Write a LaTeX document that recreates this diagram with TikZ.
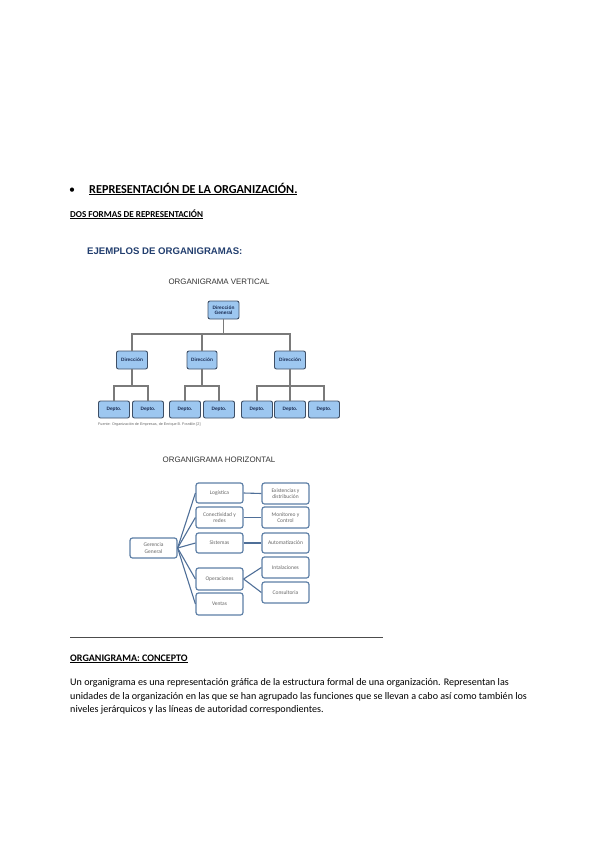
\documentclass[tikz,border=0pt]{standalone}
\usepackage{fontspec}
\setmainfont{Carlito}
\newfontfamily\arialfont{Liberation Sans}
\definecolor{vfill}{HTML}{9DC7F0}
\definecolor{vborder}{HTML}{3E4F66}
\definecolor{vtext}{HTML}{1C2E55}
\definecolor{vline}{HTML}{7A7A7A}
\definecolor{hborder}{HTML}{5D7FA6}
\definecolor{hline}{HTML}{4F6F98}
\definecolor{htext}{HTML}{666666}
\definecolor{ejcolor}{HTML}{223E6E}
\definecolor{titlegray}{HTML}{333333}
\tikzset{
  vbox/.style={draw=vborder, fill=vfill, rounded corners=2pt, line width=0.9pt,
    minimum width=31pt, minimum height=18pt, inner sep=0.5pt, align=center,
    text=vtext, font=\arialfont\bfseries\fontsize{4.8}{5.4}\selectfont},
  dbox/.style={vbox, minimum height=17pt},
  vconn/.style={draw=vline, line width=1.1pt},
  hbox/.style={draw=hborder, fill=white, rounded corners=2.5pt, line width=1.2pt,
    minimum width=47pt, minimum height=20pt, inner sep=0.5pt, align=center,
    text=htext, font=\fontsize{5.5}{6.3}\selectfont},
  hconn/.style={draw=hline, line width=1.1pt},
  charttitle/.style={text=titlegray, font=\arialfont\fontsize{7.9}{9}\selectfont},
  bodytext/.style={anchor=base west, inner sep=0pt, font=\fontsize{10.1}{13.5}\selectfont},
}
\begin{document}
\begin{tikzpicture}[x=1pt,y=-1pt]
\useasboundingbox (0,0) rectangle (600,848);
% header texts
\node[anchor=base, inner sep=0pt, font=\fontsize{12}{13}\selectfont] (bullet) at (72,193) {•};
\node[anchor=base west, inner sep=0pt, font=\bfseries\fontsize{12.2}{14}\selectfont] (head) at (89,193) {\underline{REPRESENTACIÓN DE LA ORGANIZACIÓN.}};
\node[anchor=base west, inner sep=0pt, font=\bfseries\fontsize{9.1}{10}\selectfont] (dos) at (70,217) {\underline{DOS FORMAS DE REPRESENTACIÓN}};
\node[anchor=base west, inner sep=0pt, text=ejcolor, font=\arialfont\bfseries\fontsize{9.6}{10}\selectfont] (ej) at (87,254) {EJEMPLOS DE ORGANIGRAMAS:};

% vertical chart
\node[charttitle] (vt) at (219,282) {ORGANIGRAMA VERTICAL};
\node[vbox] (DG) at (223.5,310) {Dirección\\General};
\node[vbox] (D1) at (132,360) {Dirección};
\node[vbox, minimum width=30pt] (D2) at (202,360) {Dirección};
\node[vbox] (D3) at (290,360) {Dirección};
\foreach \n/\x in {P1/114,P2/148,P3/185,P4/219,P5/257,P6/290,P7/324}
  \node[dbox] (\n) at (\x,409.5) {Depto.};
\coordinate (bus) at (223.5,334);
\coordinate (b1) at (132,386);
\coordinate (b2) at (202,386);
\coordinate (b3) at (290,386);
\draw[vconn] (DG.south) -- (bus);
\draw[vconn] (D1.north) |- (bus);
\draw[vconn] (D3.north) |- (bus);
\draw[vconn] (D2.north) -- (D2.north |- bus);
\draw[vconn] (D1.south) -- (b1);
\draw[vconn] (P1.north) |- (b1);
\draw[vconn] (P2.north) |- (b1);
\draw[vconn] (D2.south) -- (b2);
\draw[vconn] (P3.north) |- (b2);
\draw[vconn] (P4.north) |- (b2);
\draw[vconn] (D3.south) -- (b3);
\draw[vconn] (P5.north) |- (b3);
\draw[vconn] (P7.north) |- (b3);
\draw[vconn] (P6.north) -- (b3);
\node[anchor=west, inner sep=0pt, text=htext, font=\arialfont\fontsize{3.7}{4}\selectfont] (src) at (98,425) {Fuente: Organización de Empresas, de Enrique B. Franklin [2]};

% horizontal chart
\node[charttitle] (ht) at (219,460) {ORGANIGRAMA HORIZONTAL};
\node[hbox] (GG) at (153.5,548) {Gerencia\\General};
\node[hbox] (L) at (219.5,493) {Logística};
\node[hbox, minimum height=21pt] (C) at (219.5,517.5) {Conectividad y\\redes};
\node[hbox] (S) at (219.5,543) {Sistemas};
\node[hbox, minimum height=22pt] (O) at (219.5,579) {Operaciones};
\node[hbox, minimum height=22pt] (V) at (219.5,604) {Ventas};
\node[hbox, minimum height=21pt] (E) at (285.5,493.5) {Existencias y\\distribución};
\node[hbox, minimum height=21pt] (M) at (285.5,517.5) {Monitoreo y\\Control};
\node[hbox] (A) at (285.5,543) {Automatización};
\node[hbox, minimum height=21pt] (I) at (285.5,567.5) {Intalaciones};
\node[hbox, minimum height=21pt] (K) at (285.5,592.5) {Consultoria};
\foreach \t in {L,C,S,O,V}
  \draw[hconn] (GG.east) -- (\t.west);
\draw[hconn] (L.east) -- (E.west);
\draw[hconn] (C.east) -- (M.west);
\draw[hconn] (S.east) -- (A.west);
\draw[hconn] (O.east) -- (I.west);
\draw[hconn] (O.east) -- (K.west);

% separator
\coordinate (sepA) at (70,637);
\coordinate (sepB) at (383,637);
\draw[draw=black!70, line width=0.8pt] (sepA) -- (sepB);

% concept
\node[anchor=base west, inner sep=0pt, font=\bfseries\fontsize{10}{11}\selectfont] (conc) at (70,661) {\underline{ORGANIGRAMA: CONCEPTO}};
\node[bodytext] (l1) at (70,685) {Un organigrama es una representación gráfica de la estructura formal de una organización. Representan las};
\node[bodytext] (l2) at (70,699) {unidades de la organización en las que se han agrupado las funciones que se llevan a cabo así como también los};
\node[bodytext] (l3) at (70,712.5) {niveles jerárquicos y las líneas de autoridad correspondientes.};
\end{tikzpicture}
\end{document}
